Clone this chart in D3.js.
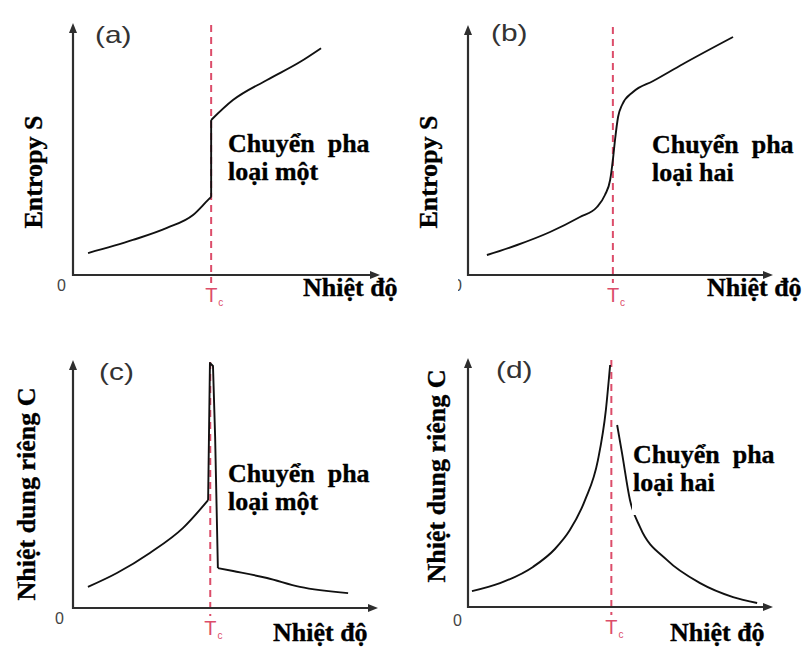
<!DOCTYPE html>
<html>
<head>
<meta charset="utf-8">
<script src="https://cdn.jsdelivr.net/npm/d3@7"></script>
<style>
  html, body { margin: 0; padding: 0; background: #fff; }
  svg { display: block; }
  .serif { font-family: "Liberation Serif", "Times New Roman", serif; font-weight: bold; fill: #000; stroke: #000; stroke-width: 0.35px; white-space: pre; }
  .sans { font-family: "Liberation Sans", Arial, sans-serif; }
</style>
</head>
<body>
<svg id="chart" width="803" height="648"></svg>
<script>
// ---- Data (abstract units: temperature on x, quantity on y, both 0..10) ----
const panelTags = ["(a)", "(b)", "(c)", "(d)"];
const yTitles = ["Entropy S", "Entropy S", "Nhiệt dung riêng C", "Nhiệt dung riêng C"];
const xTitle = "Nhiệt độ";
const noteLine1 = ["Chuyển  pha", "Chuyển  pha", "Chuyển  pha", "Chuyển  pha"];
const noteLine2 = ["loại một", "loại hai", "loại một", "loại hai"];
const originLabel = "0";
const tcLabel = ["T", "c"];
const tcValues = [4.5, 4.75, 4.5, 4.7];

// (a) entropy, first-order transition: jump at Tc
const entropyFirstBelow = [[0.49, 0.87], [1.95, 1.39], [3.06, 1.87], [3.91, 2.38], [4.40, 2.98], [4.5, 3.1]];
const entropyFirstAbove = [[4.5, 6.15], [5.21, 6.94], [6.32, 7.74], [7.39, 8.45], [8.08, 9.0]];

// (b) entropy, second-order transition: continuous, steep at Tc
const entropySecond = [[0.62, 0.8], [1.61, 1.2], [2.69, 1.72], [3.67, 2.32], [4.23, 2.72], [4.49, 3.2],
  [4.66, 3.8], [4.75, 4.6], [4.82, 5.4], [4.92, 6.32], [5.05, 6.8], [5.41, 7.32], [6.07, 7.76],
  [7.05, 8.44], [8.69, 9.52]];

// (c) heat capacity, first-order transition: sharp spike at Tc
const heatFirstBelow = [[0.49, 0.85], [1.44, 1.41], [2.52, 2.22], [3.61, 3.23], [4.43, 4.35]];
const heatFirstSpike = [[4.43, 4.35], [4.49, 9.88], [4.59, 9.76], [4.66, 6.9], [4.75, 1.61]];
const heatFirstAbove = [[4.75, 1.61], [5.25, 1.49], [6.36, 1.21], [7.44, 0.85], [9.02, 0.6]];

// (d) heat capacity, second-order transition: lambda-shaped divergence
const heatSecondBelow = [[0.13, 0.64], [1.05, 0.96], [2.13, 1.61], [2.85, 2.33], [3.34, 3.09],
  [3.84, 4.3], [4.26, 5.9], [4.52, 7.91], [4.66, 9.72]];
const heatSecondAbove = [[4.89, 7.31], [5.05, 6.18], [5.31, 4.3], [5.64, 3.21], [6.52, 1.89],
  [7.61, 0.96], [8.69, 0.4], [9.48, 0.16]];

// ---- Layout of the four small plots ----
const frames = [
  { x0: 73,  x1: 380, y0: 275, y1: 23,  title: [42, 172],  tag: [95, 43],   note: [228, 152], nx: [303, 296], zero: [57, 291] },
  { x0: 468, x1: 773, y0: 275, y1: 25,  title: [437, 172], tag: [491, 41],  note: [652, 153], nx: [707, 296], zero: [453, 291], clipZero: 458 },
  { x0: 73,  x1: 378, y0: 608, y1: 360, title: [35, 494],  tag: [99, 380],  note: [228, 482], nx: [273, 641], zero: [55, 624] },
  { x0: 468, x1: 773, y0: 607, y1: 358, title: [445, 476], tag: [496, 378], note: [633, 463], nx: [670, 641], zero: [453, 626], noteBg: true }
];

const seriesByPanel = [
  [{ d: entropyFirstBelow, c: d3.curveMonotoneX }, { d: [entropyFirstBelow[entropyFirstBelow.length - 1], entropyFirstAbove[0]], c: d3.curveLinear }, { d: entropyFirstAbove, c: d3.curveMonotoneX }],
  [{ d: entropySecond, c: d3.curveMonotoneX }],
  [{ d: heatFirstBelow, c: d3.curveMonotoneX }, { d: heatFirstSpike, c: d3.curveLinear }, { d: heatFirstAbove, c: d3.curveMonotoneX }],
  [{ d: heatSecondBelow, c: d3.curveMonotoneX }, { d: heatSecondAbove, c: d3.curveMonotoneX }]
];

const svg = d3.select("#chart");
const defs = svg.append("defs");

const axisColor = "#2e2e2e";
const curveColor = "#111";
const tcColor = "#dc4d6a";

frames.forEach((f, i) => {
  const g = svg.append("g").attr("class", "panel-" + i);
  const x = d3.scaleLinear().domain([0, 10]).range([f.x0, f.x1]);
  const y = d3.scaleLinear().domain([0, 10]).range([f.y0, f.y1]);
  const tcX = x(tcValues[i]);

  // critical temperature marker
  g.append("line")
    .attr("x1", tcX).attr("x2", tcX)
    .attr("y1", y(10) + 2).attr("y2", f.y0 + 8)
    .attr("stroke", tcColor).attr("stroke-width", 2)
    .attr("stroke-dasharray", "7,5");

  // axes with arrow heads
  g.append("line").attr("x1", x(0)).attr("x2", x(10) - 6).attr("y1", y(0)).attr("y2", y(0))
    .attr("stroke", axisColor).attr("stroke-width", 2.2);
  g.append("line").attr("x1", x(0)).attr("x2", x(0)).attr("y1", y(0) + 1).attr("y2", y(10) + 6)
    .attr("stroke", axisColor).attr("stroke-width", 2.2);
  g.append("path")
    .attr("d", `M${x(10)},${y(0)} L${x(10) - 10},${y(0) - 4} L${x(10) - 10},${y(0) + 4} Z`)
    .attr("fill", axisColor);
  g.append("path")
    .attr("d", `M${x(0)},${y(10)} L${x(0) - 4},${y(10) + 10} L${x(0) + 4},${y(10) + 10} Z`)
    .attr("fill", axisColor);

  // curves
  seriesByPanel[i].forEach(s => {
    g.append("path")
      .datum(s.d)
      .attr("d", d3.line().x(p => x(p[0])).y(p => y(p[1])).curve(s.c))
      .attr("fill", "none").attr("stroke", curveColor)
      .attr("stroke-width", 1.9).attr("stroke-linejoin", "round");
  });

  // panel tag
  g.append("text").attr("class", "sans")
    .attr("transform", `translate(${f.tag[0]},${f.tag[1]}) scale(1.3,1)`)
    .attr("font-size", 23).attr("fill", "#333")
    .text(panelTags[i]);

  // origin label
  const zero = g.append("text").attr("class", "sans")
    .attr("x", f.zero[0]).attr("y", f.zero[1])
    .attr("font-size", 16).attr("fill", "#444")
    .text(originLabel);
  if (f.clipZero) {
    defs.append("clipPath").attr("id", "zclip" + i)
      .append("rect").attr("x", f.clipZero).attr("y", f.zero[1] - 20).attr("width", 30).attr("height", 30);
    zero.attr("clip-path", `url(#zclip${i})`);
  }

  // Tc label
  const tc = g.append("text").attr("class", "sans")
    .attr("x", tcX - 6).attr("y", f.y0 + 27)
    .attr("font-size", 20).attr("fill", tcColor);
  tc.append("tspan").text(tcLabel[0]);
  tc.append("tspan").attr("font-size", 10).attr("dy", 4).attr("dx", 1).text(tcLabel[1]);

  // y axis title
  g.append("text").attr("class", "serif")
    .attr("transform", `translate(${f.title[0]},${f.title[1]}) rotate(-90)`)
    .attr("text-anchor", "middle").attr("font-size", 26)
    .text(yTitles[i]);

  // x axis title
  g.append("text").attr("class", "serif")
    .attr("x", f.nx[0]).attr("y", f.nx[1])
    .attr("font-size", 26)
    .text(xTitle);

  // transition note
  if (f.noteBg) {
    g.append("rect").attr("x", f.note[0] - 1).attr("y", f.note[1] + 30)
      .attr("width", 6).attr("height", 22).attr("fill", "#fff");
  }
  g.append("text").attr("class", "serif")
    .attr("x", f.note[0]).attr("y", f.note[1])
    .attr("font-size", 26).text(noteLine1[i]);
  g.append("text").attr("class", "serif")
    .attr("x", f.note[0]).attr("y", f.note[1] + 28)
    .attr("font-size", 26).text(noteLine2[i]);
});
</script>
</body>
</html>
